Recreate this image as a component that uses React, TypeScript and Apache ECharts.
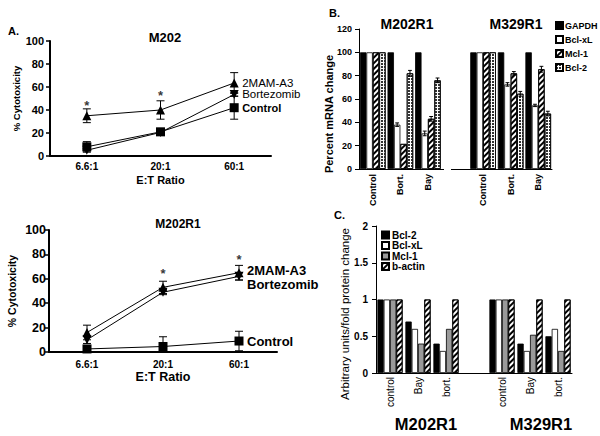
import React, { useEffect, useRef } from 'react';
import * as echarts from 'echarts';

const FONT = '"Liberation Sans", Arial, sans-serif';

// Panel A data
const ratioCats = ['6.6:1', '20:1', '60:1'];
const m202Mam = [35, 40, 63.5];
const m202MamErr = [6, 8, 9];
const m202Bort = [5, 20.5, 53.5];
const m202BortErr = [1.5, 1.5, 1.5];
const m202Ctrl = [8, 21, 42];
const m202CtrlErr = [4.5, 3, 10];
const m202Stars = [[0, 44], [1, 53]];

const r1Mam = [16, 53, 65];
const r1MamErr = [6, 5, 6];
const r1Bort = [10, 49, 62];
const r1BortErr = [3, 2, 3];
const r1Ctrl = [2.5, 4.5, 9];
const r1CtrlErr = [1, 8, 8];
const r1Stars = [[1, 64], [2, 76]];

// Panel B data
const mrnaCats = ['Control', 'Bort.', 'Bay', '', 'Control', 'Bort.', 'Bay'];
const mrnaGAPDH = [100, 100, 100, null, 100, 100, 100];
const mrnaBclxL = [100, 38, 30.5, null, 100, 72.5, 54.5];
const mrnaMcl1 = [100, 21.5, 43, null, 100, 82, 85.5];
const mrnaBcl2 = [100, 82, 76, null, 100, 64.5, 47.5];
const mrnaBclxLErr = [0, 1.5, 2, null, 0, 1.5, 1];
const mrnaMcl1Err = [0, 0, 2, null, 0, 1.5, 2.5];
const mrnaBcl2Err = [0, 2.5, 2, null, 0, 2, 2];

// Panel C data
const protCats = ['control', 'Bay', 'bort.', '', 'control', 'Bay', 'bort.'];
const protBcl2 = [1, 0.7, 0.4, null, 1, 0.4, 0.5];
const protBclxL = [1, 0.6, 0.3, null, 1, 0.3, 0.6];
const protMcl1 = [1, 0.4, 0.6, null, 1, 0.52, 0.3];
const protActin = [1, 1, 1, null, 1, 1, 1];

const B_GAP = 0.07;
const C_GAP = 0.1;

function lineErrData(vals: number[], errs: number[]) {
  return vals.map((v, i) => [i, Math.max(0, v - errs[i]), v + errs[i]]);
}

function barErrData(vals: (number | null)[], errs: (number | null)[], k: number) {
  const out: number[][] = [];
  vals.forEach((v, i) => {
    const e = errs[i];
    if (v != null && e) out.push([i, v - e, v + e, k]);
  });
  return out;
}

const ST = { stroke: '#000', lineWidth: 1 };

function lineErrRender(_p: any, api: any) {
  const c = api.value(0);
  const lo = api.coord([c, api.value(1)]);
  const hi = api.coord([c, api.value(2)]);
  const w = 4;
  return {
    type: 'group',
    children: [
      { type: 'line', shape: { x1: lo[0], y1: lo[1], x2: hi[0], y2: hi[1] }, style: ST },
      { type: 'line', shape: { x1: hi[0] - w, y1: hi[1], x2: hi[0] + w, y2: hi[1] }, style: ST },
      { type: 'line', shape: { x1: lo[0] - w, y1: lo[1], x2: lo[0] + w, y2: lo[1] }, style: ST },
    ],
  };
}

function barErrRender(gap: number, n: number) {
  return (_p: any, api: any) => {
    const c = api.value(0);
    const k = api.value(3);
    const hi = api.coord([c, api.value(2)]);
    const lo = api.coord([c, api.value(1)]);
    const band = api.size([1, 0])[0];
    const gw = band * (1 - gap);
    const bw = gw / n;
    const x = hi[0] - gw / 2 + (k + 0.5) * bw;
    const w = bw * 0.3;
    return {
      type: 'group',
      children: [
        { type: 'line', shape: { x1: x, y1: lo[1], x2: x, y2: hi[1] }, style: ST },
        { type: 'line', shape: { x1: x - w, y1: hi[1], x2: x + w, y2: hi[1] }, style: ST },
        { type: 'line', shape: { x1: x - w, y1: lo[1], x2: x + w, y2: lo[1] }, style: ST },
      ],
    };
  };
}

const stripes = {
  symbol: 'rect',
  symbolSize: 1,
  dashArrayX: [1, 0],
  dashArrayY: [2, 2],
  rotation: -Math.PI / 4,
  color: '#000',
};
const dots = {
  symbol: 'rect',
  symbolSize: 1,
  dashArrayX: [2, 1],
  dashArrayY: [2, 1],
  color: '#333',
};

function lineAxisX(idx: number, nameSize: number, margin: number) {
  return {
    type: 'category',
    gridIndex: idx,
    data: ratioCats,
    name: 'E:T Ratio',
    nameLocation: 'middle',
    nameGap: 18,
    nameTextStyle: { fontFamily: FONT, fontSize: nameSize, fontWeight: 'bold', color: '#000' },
    axisLine: { lineStyle: { color: '#000', width: 2 } },
    axisTick: { alignWithLabel: true, length: 4, lineStyle: { color: '#000', width: 1.5 } },
    axisLabel: { fontFamily: FONT, fontSize: 10, fontWeight: 'bold', color: '#000', margin },
    splitLine: { show: false },
  };
}

function lineAxisY(idx: number, labelSize: number, nameSize: number, nameGap: number, margin: number) {
  return {
    type: 'value',
    gridIndex: idx,
    min: 0,
    max: 100,
    interval: 20,
    name: '% Cytotoxicity',
    nameLocation: 'middle',
    nameGap,
    nameTextStyle: { fontFamily: FONT, fontSize: nameSize, fontWeight: 'bold', color: '#000' },
    axisLine: { show: true, lineStyle: { color: '#000', width: 2 } },
    axisTick: { show: true, length: 4, lineStyle: { color: '#000', width: 1.5 } },
    axisLabel: { fontFamily: FONT, fontSize: labelSize, fontWeight: 'bold', color: '#000', margin },
    splitLine: { show: false },
  };
}

function lineSeries(name: string, idx: number, data: number[], symbol: string, rotate: number, label: any) {
  return {
    type: 'line',
    name,
    xAxisIndex: idx,
    yAxisIndex: idx,
    data,
    symbol,
    symbolSize: 9,
    symbolRotate: rotate,
    lineStyle: { color: '#000', width: 1 },
    itemStyle: { color: '#000' },
    z: 3,
    endLabel: { show: true, formatter: '{a}', fontFamily: FONT, color: '#000', distance: 8, ...label },
  };
}

function errSeries(name: string, idx: number, data: number[][], render: any) {
  return {
    type: 'custom',
    name,
    xAxisIndex: idx,
    yAxisIndex: idx,
    data,
    renderItem: render,
    z: 4,
  };
}

function starSeries(name: string, idx: number, data: number[][]) {
  return {
    type: 'scatter',
    name,
    xAxisIndex: idx,
    yAxisIndex: idx,
    data,
    symbolSize: 1,
    itemStyle: { color: 'rgba(0,0,0,0)' },
    label: { show: true, formatter: '*', position: 'inside', fontFamily: FONT, fontSize: 13, fontWeight: 'bold', color: '#000' },
  };
}

function barSeries(name: string, idx: number, data: (number | null)[], style: any, gap: number) {
  return {
    type: 'bar',
    name,
    xAxisIndex: idx,
    yAxisIndex: idx,
    data,
    barGap: '0%',
    barCategoryGap: `${gap * 100}%`,
    itemStyle: { borderColor: '#000', borderWidth: 0.8, ...style },
  };
}

function titleText(text: string, left: number, top: number, size: number) {
  return {
    text,
    left,
    top,
    padding: 0,
    textAlign: 'center',
    textStyle: { fontFamily: FONT, fontSize: size, fontWeight: 'bold', color: '#000' },
  };
}

export default function App() {
  const ref = useRef<HTMLDivElement>(null);
  useEffect(() => {
    if (!ref.current) return;
    const chart = echarts.init(ref.current, undefined, { renderer: 'svg' });
    const option: any = {
      animation: false,
      backgroundColor: '#fff',
      textStyle: { fontFamily: FONT },
      title: [
        titleText('M202', 165, 31, 13),
        titleText('M202R1', 178, 218, 12),
        titleText('M202R1', 407, 17, 14),
        titleText('M329R1', 516, 17, 14),
        titleText('M202R1', 426, 415, 16.5),
        titleText('M329R1', 541, 415, 16.5),
      ],
      grid: [
        { left: 50, top: 41, width: 221, height: 115 },
        { left: 49, top: 230, width: 228, height: 122 },
        { left: 359, top: 29, width: 193, height: 140 },
        { left: 376, top: 226, width: 196, height: 147 },
      ],
      legend: [
        {
          data: ['GAPDH', 'Bcl-xL', 'Mcl-1', 'Bcl-2'],
          orient: 'vertical',
          left: 555,
          top: 21,
          padding: 0,
          itemWidth: 7,
          itemHeight: 7,
          itemGap: 5,
          icon: 'rect',
          selectedMode: false,
          textStyle: { fontFamily: FONT, fontSize: 9, fontWeight: 'bold', color: '#000', padding: [0, 0, 0, -3] },
        },
        {
          data: ['C:Bcl-2', 'C:Bcl-xL', 'C:Mcl-1', 'C:b-actin'],
          formatter: (n: string) => n.replace('C:', ''),
          orient: 'vertical',
          left: 381,
          top: 230,
          padding: 0,
          itemWidth: 7,
          itemHeight: 7,
          itemGap: 0.5,
          icon: 'rect',
          selectedMode: false,
          textStyle: { fontFamily: FONT, fontSize: 10, fontWeight: 'bold', color: '#000', padding: [0, 0, 0, -2] },
        },
      ],
      xAxis: [
        lineAxisX(0, 11, 5),
        lineAxisX(1, 12.5, 7),
        {
          type: 'category',
          gridIndex: 2,
          data: mrnaCats,
          axisLine: { lineStyle: { color: '#000', width: 1 } },
          axisTick: { length: 3, lineStyle: { color: '#000' } },
          axisLabel: { rotate: 90, interval: 0, fontFamily: FONT, fontSize: 9, fontWeight: 'bold', color: '#000', margin: 5 },
        },
        {
          type: 'category',
          gridIndex: 3,
          data: protCats,
          axisLine: { lineStyle: { color: '#000', width: 1 } },
          axisTick: { length: 3, lineStyle: { color: '#000' } },
          axisLabel: { rotate: 90, interval: 0, fontFamily: FONT, fontSize: 10, color: '#000', margin: 4 },
        },
      ],
      yAxis: [
        lineAxisY(0, 11, 9.5, 29, 6),
        lineAxisY(1, 12.5, 10.5, 32, 3),
        {
          type: 'value',
          gridIndex: 2,
          min: 0,
          max: 120,
          interval: 20,
          axisLine: { show: true, lineStyle: { color: '#000', width: 1 } },
          axisTick: { show: true, length: 4, lineStyle: { color: '#000' } },
          axisLabel: { fontFamily: FONT, fontSize: 9, fontWeight: 'bold', color: '#000', margin: 7 },
          splitLine: { show: false },
        },
        {
          type: 'value',
          gridIndex: 3,
          min: 0,
          max: 2,
          interval: 0.5,
          axisLine: { show: true, lineStyle: { color: '#000', width: 1 } },
          axisTick: { show: true, length: 4, lineStyle: { color: '#000' } },
          axisLabel: { fontFamily: FONT, fontSize: 10, fontWeight: 'bold', color: '#000', margin: 8 },
          splitLine: { show: false },
        },
      ],
      graphic: [
        { type: 'text', x: 8, y: 31, style: { text: 'A.', fontFamily: FONT, fontSize: 11, fontWeight: 'bold', fill: '#000', verticalAlign: 'middle' } },
        { type: 'text', x: 329, y: 13, style: { text: 'B.', fontFamily: FONT, fontSize: 11, fontWeight: 'bold', fill: '#000', verticalAlign: 'middle' } },
        { type: 'text', x: 334, y: 215, style: { text: 'C.', fontFamily: FONT, fontSize: 11, fontWeight: 'bold', fill: '#000', verticalAlign: 'middle' } },
        { type: 'text', x: 329, y: 114, rotation: Math.PI / 2, style: { text: 'Percent mRNA change', fontFamily: FONT, fontSize: 11, fontWeight: 'bold', fill: '#000', align: 'center', verticalAlign: 'middle' } },
        { type: 'text', x: 345, y: 314, rotation: Math.PI / 2, style: { text: 'Arbitrary units/fold protein change', fontFamily: FONT, fontSize: 11.5, fill: '#000', align: 'center', verticalAlign: 'middle' } },
        { type: 'rect', z: 100, shape: { x: 444, y: 166, width: 7, height: 6 }, style: { fill: '#fff' } },
      ],
      series: [
        // Panel A top
        lineSeries('2MAM-A3', 0, m202Mam, 'triangle', 0, { fontSize: 11.5 }),
        lineSeries('Bortezomib', 0, m202Bort, 'triangle', 180, { fontSize: 11.5 }),
        lineSeries('Control', 0, m202Ctrl, 'rect', 0, { fontSize: 11, fontWeight: 'bold' }),
        errSeries('e1', 0, lineErrData(m202Mam, m202MamErr), lineErrRender),
        errSeries('e2', 0, lineErrData(m202Bort, m202BortErr), lineErrRender),
        errSeries('e3', 0, lineErrData(m202Ctrl, m202CtrlErr), lineErrRender),
        starSeries('s1', 0, m202Stars),
        // Panel A bottom
        lineSeries('2MAM-A3', 1, r1Mam, 'triangle', 0, { fontSize: 13, fontWeight: 'bold', offset: [0, -2] }),
        lineSeries('Bortezomib', 1, r1Bort, 'triangle', 180, { fontSize: 13, fontWeight: 'bold', offset: [0, 8] }),
        lineSeries('Control', 1, r1Ctrl, 'rect', 0, { fontSize: 13, fontWeight: 'bold' }),
        errSeries('e4', 1, lineErrData(r1Mam, r1MamErr), lineErrRender),
        errSeries('e5', 1, lineErrData(r1Bort, r1BortErr), lineErrRender),
        errSeries('e6', 1, lineErrData(r1Ctrl, r1CtrlErr), lineErrRender),
        starSeries('s2', 1, r1Stars),
        // Panel B
        barSeries('GAPDH', 2, mrnaGAPDH, { color: '#000' }, B_GAP),
        barSeries('Bcl-xL', 2, mrnaBclxL, { color: '#fff' }, B_GAP),
        barSeries('Mcl-1', 2, mrnaMcl1, { color: '#fff', decal: stripes }, B_GAP),
        barSeries('Bcl-2', 2, mrnaBcl2, { color: '#fff', decal: dots }, B_GAP),
        errSeries('e7', 2, barErrData(mrnaBclxL, mrnaBclxLErr, 1), barErrRender(B_GAP, 4)),
        errSeries('e8', 2, barErrData(mrnaMcl1, mrnaMcl1Err, 2), barErrRender(B_GAP, 4)),
        errSeries('e9', 2, barErrData(mrnaBcl2, mrnaBcl2Err, 3), barErrRender(B_GAP, 4)),
        // Panel C
        barSeries('C:Bcl-2', 3, protBcl2, { color: '#000' }, C_GAP),
        barSeries('C:Bcl-xL', 3, protBclxL, { color: '#fff' }, C_GAP),
        barSeries('C:Mcl-1', 3, protMcl1, { color: '#9a9a9a' }, C_GAP),
        barSeries('C:b-actin', 3, protActin, { color: '#fff', decal: stripes }, C_GAP),
      ],
    };
    chart.setOption(option);
    return () => chart.dispose();
  }, []);
  return (
    <div
      ref={ref}
      style={{ position: 'fixed', left: 0, top: 0, width: 600, height: 436, background: '#fff' }}
    />
  );
}
